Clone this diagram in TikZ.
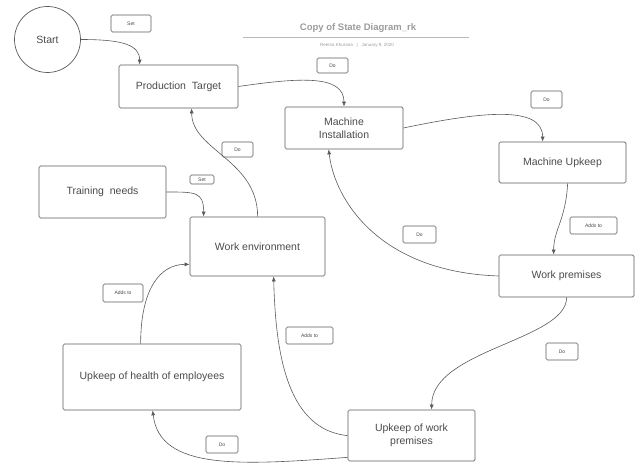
\documentclass[tikz,border=0pt]{standalone}
\usepackage{fontspec}
\setmainfont{Liberation Sans}
\usetikzlibrary{arrows.meta}
\definecolor{txt}{HTML}{4A4A4A}
\definecolor{edge}{HTML}{5A5A5A}
\definecolor{ttl}{HTML}{9C9C9C}
\begin{document}
\begin{tikzpicture}[x=1pt,y=-1pt,
  state/.style={draw=edge,line width=0.7pt,rounded corners=1.5pt,inner sep=0pt,align=center,
     text=txt,font=\fontsize{10.5}{12.5}\selectfont},
  tag/.style={draw=edge,line width=0.6pt,rounded corners=1.5pt,inner sep=0pt,text=txt,
     font=\fontsize{5}{6}\selectfont},
  conn/.style={draw=edge,line width=0.6pt,-{Latex[length=5pt,width=4pt]}}]
\useasboundingbox (0,0) rectangle (635,465);
% title
\node[font=\bfseries\fontsize{9.5}{11}\selectfont,text=ttl] (title) at (358,28) {Copy of State Diagram\_rk};
\coordinate (tl) at (243,37);
\coordinate (tr) at (469,37);
\draw[ttl!70,line width=0.7pt] (tl) -- (tr);
\node[font=\fontsize{4.5}{5}\selectfont,text=ttl] (sub) at (357,45) {Reema Khurana\ \ \ |\ \ \ January 9, 2020};
% states
\node[draw=edge,line width=0.7pt,circle,minimum size=66pt,inner sep=0pt,text=txt,font=\fontsize{10.5}{12.5}\selectfont] (start) at (47.5,39.5) {Start};
\node[state,minimum width=119pt,minimum height=43pt] (pt) at (178.5,86.5) {Production\ \ Target};
\node[state,minimum width=118pt,minimum height=42pt] (mi) at (344,128) {Machine\\Installation};
\node[state,minimum width=127pt,minimum height=41pt] (mu) at (562.5,162.5) {Machine Upkeep};
\node[state,minimum width=127pt,minimum height=52pt] (tn) at (102.5,192) {Training\ \ needs};
\node[state,minimum width=135pt,minimum height=59pt] (we) at (257.5,246.5) {Work environment};
\node[state,minimum width=135pt,minimum height=42pt] (wp) at (566.5,276) {Work premises};
\node[state,minimum width=178pt,minimum height=66pt] (uh) at (152,377) {Upkeep of health of employees};
\node[state,minimum width=127pt,minimum height=51pt] (uwp) at (411.5,435.5) {Upkeep of work\\premises};
% tags
\node[tag,minimum width=40pt,minimum height=17pt] (t1) at (131,23.5) {Set};
\node[tag,minimum width=31pt,minimum height=15pt] (t2) at (332.5,65.5) {Do};
\node[tag,minimum width=31pt,minimum height=17pt] (t3) at (546.5,99.5) {Do};
\node[tag,minimum width=31pt,minimum height=15pt] (t4) at (237.5,149.5) {Do};
\node[tag,minimum width=24pt,minimum height=9pt] (t5) at (202,179.5) {Set};
\node[tag,minimum width=40pt,minimum height=18pt] (t6) at (123,293) {Adds to};
\node[tag,minimum width=33pt,minimum height=17pt] (t7) at (419.5,234.5) {Do};
\node[tag,minimum width=47pt,minimum height=17pt] (t8) at (593.5,225.5) {Adds to};
\node[tag,minimum width=47pt,minimum height=17pt] (t9) at (309.5,335.5) {Adds to};
\node[tag,minimum width=32pt,minimum height=17pt] (t10) at (562,351.5) {Do};
\node[tag,minimum width=32pt,minimum height=17pt] (t11) at (222,444.5) {Do};
% connectors
\draw[conn] (start.east) .. controls +(41,0) and +(0,-20) .. ([xshift=21pt]pt.north west);
\draw[conn] (pt.east) .. controls +(62,-9) and +(0,-32) .. (mi.north);
\draw[conn] (mi.east) .. controls +(77,-16) and +(0,-37) .. ([xshift=44pt]mu.north west);
\draw[conn] ([xshift=69pt]mu.south west) .. controls +(-2,37) and +(0,-25) .. ([xshift=55pt]wp.north west);
\draw[conn] (wp.west) .. controls +(-119,-4) and +(6,51) .. ([xshift=44pt]mi.south west);
\draw[conn] ([xshift=68pt]wp.south west) .. controls +(0,43) and +(0,-60) .. ([xshift=84pt]uwp.north west);
\draw[conn] ([yshift=-26pt]uwp.north west) .. controls +(-58,-6) and +(2,84) .. ([xshift=84pt]we.south west);
\draw[conn] ([yshift=4pt]uwp.south west) .. controls +(-108,8) and +(7,60) .. ([xshift=90pt]uh.south west);
\draw[conn] ([xshift=78pt]uh.north west) .. controls +(0,-54) and +(-30,0) .. ([yshift=12pt]we.south west);
\draw[conn] ([xshift=68pt]we.north west) .. controls +(0,-57) and +(0,42) .. ([xshift=73pt]pt.south west);
\draw[conn] (tn.east) .. controls +(29,0) and +(0,-25) .. ([xshift=14pt]we.north west);
\end{tikzpicture}
\end{document}
